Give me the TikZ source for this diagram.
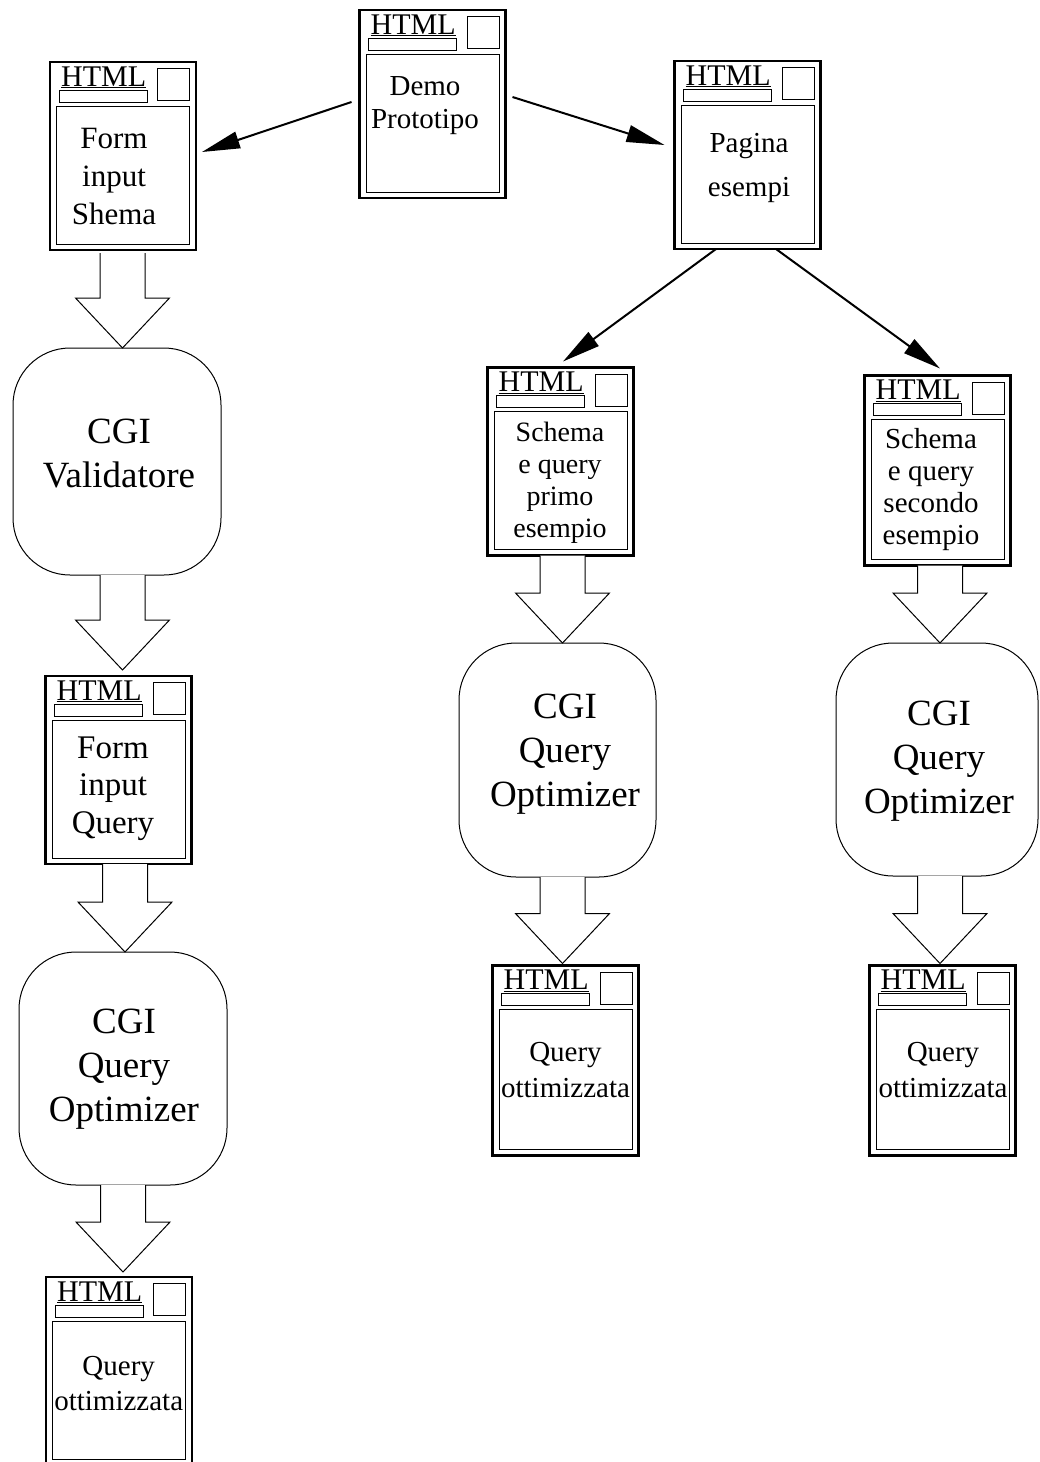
\documentclass[tikz,border=0pt]{standalone}
\usepackage{fontspec}
\setmainfont{Liberation Serif}
\usetikzlibrary{calc,arrows.meta}
\tikzset{
  htmlbox/.style={draw, line width=2.5pt, minimum width=146pt, minimum height=188pt, inner sep=0pt, outer sep=0pt},
  innerbox/.style={draw, line width=1pt},
  cgi/.style={draw, line width=1pt, rounded corners=57pt, inner sep=0pt, outer sep=0pt},
  btxt/.style 2 args={anchor=north, align=center, inner sep=0pt, font=\fontsize{#1}{#2}\selectfont},
  blockarr/.style={draw, line width=1pt, fill=white, line join=miter},
  thinarr/.style={line width=2pt, -{Triangle[length=38pt,width=17pt]}},
}
\newcommand\htmldeco[1]{%
  \draw[innerbox] ($(#1.north west)+(6.5,44)$) rectangle ($(#1.south east)+(-6.5,-6)$);
  \draw[innerbox] ($(#1.north west)+(9,28)$) rectangle ++(88,12);
  \draw[innerbox] ($(#1.north east)+(-38.5,6.5)$) rectangle ++(32,32);
  \node[anchor=base west, inner sep=0pt, font=\fontsize{30}{30}\selectfont] (#1-lbl) at ($(#1.north west)+(11,24)$) {\underline{HTML}};
}
\newcommand\blockarrow[5]{%
  \draw[blockarr] let \p1=($(#1.south)+(#3,#4)$), \p2=($(#2.north)+(0,#5)$) in
    (\x1-22.5pt,\y1) -- (\x1-22.5pt,\y2+50pt) -- (\x1-47pt,\y2+50pt) -- (\x1,\y2)
    -- (\x1+47pt,\y2+50pt) -- (\x1+22.5pt,\y2+50pt) -- (\x1+22.5pt,\y1);
}
\begin{document}
\begin{tikzpicture}[x=1pt,y=-1pt]
\useasboundingbox (0,0) rectangle (1039,1462);
\fill[white] (0,0) rectangle (1039,1462);

% HTML pages
\node[htmlbox] (demo) at (432.5,104) {};
\node[htmlbox] (formS) at (123,156) {};
\node[htmlbox] (pagina) at (747.5,155) {};
\node[htmlbox] (schema1) at (560.5,461.5) {};
\node[htmlbox, minimum height=190pt] (schema2) at (937.5,470.5) {};
\node[htmlbox] (formQ) at (118.5,770) {};
\node[htmlbox, minimum height=190pt] (outM) at (565.5,1060.5) {};
\node[htmlbox, minimum height=190pt] (outR) at (942.5,1060.5) {};
\node[htmlbox] (out1) at (119,1371) {};
\htmldeco{demo}
\htmldeco{formS}
\htmldeco{pagina}
\htmldeco{schema1}
\htmldeco{schema2}
\htmldeco{formQ}
\htmldeco{outM}
\htmldeco{outR}
\htmldeco{out1}

\node[btxt={29}{33}] (demo-t) at (425,71.9) {\strut Demo\\\strut Prototipo};
\node[btxt={31}{38}] (formS-t) at (114,121.4) {\strut Form\\\strut input\\\strut Shema};
\node[btxt={29}{44}] (pagina-t) at (749,121) {\strut Pagina\\\strut esempi};
\node[btxt={28}{32}] (schema1-t) at (560,419.3) {\strut Schema\\\strut e query\\\strut primo\\\strut esempio};
\node[btxt={29}{32}] (schema2-t) at (931,425.6) {\strut Schema\\\strut e query\\\strut secondo\\\strut esempio};
\node[btxt={33}{37.5}] (formQ-t) at (113,731.7) {\strut Form\\\strut input\\\strut Query};
\node[btxt={29}{36}] (outM-t) at (565.5,1036.5) {\strut Query\\\strut ottimizzata};
\node[btxt={29}{36}] (outR-t) at (943,1036.5) {\strut Query\\\strut ottimizzata};
\node[btxt={29}{35}] (out1-t) at (118.7,1350.5) {\strut Query\\\strut ottimizzata};

% CGI programs
\node[cgi, minimum width=208pt, minimum height=227pt] (valid) at (117,461.5) {};
\node[cgi, minimum width=208pt, minimum height=233pt] (cgiQ1) at (123,1068.5) {};
\node[cgi, minimum width=197pt, minimum height=234pt] (cgiM) at (557.5,760) {};
\node[cgi, minimum width=202pt, minimum height=233pt] (cgiR) at (937,759.5) {};
\node[btxt={37}{44}] (valid-t) at (119,412.2) {\strut CGI\\\strut Validatore};
\node[btxt={37}{44}] (cgiQ1-t) at (124,1002.2) {\strut CGI\\\strut Query\\\strut Optimizer};
\node[btxt={37}{44}] (cgiM-t) at (565,687.2) {\strut CGI\\\strut Query\\\strut Optimizer};
\node[btxt={37}{44}] (cgiR-t) at (939,694.2) {\strut CGI\\\strut Query\\\strut Optimizer};

% block arrows
\blockarrow{formS}{valid}{-0.5}{3}{0}
\blockarrow{valid}{formQ}{5.5}{0}{-6}
\blockarrow{formQ}{cgiQ1}{6.5}{0}{0}
\blockarrow{cgiQ1}{out1}{0}{0}{-5}
\blockarrow{schema1}{cgiM}{2}{0}{0}
\blockarrow{cgiM}{outM}{5}{0}{-2}
\blockarrow{schema2}{cgiR}{2.5}{0}{0}
\blockarrow{cgiR}{outR}{3}{0}{-2}

% links
\draw[thinarr] ($(demo.west)+(-8,-2)$) -- ($(formS.east)+(6,-4)$);
\draw[thinarr] ($(demo.east)+(7,-7)$) -- ($(pagina.west)+(-10,-10)$);
\draw[thinarr] ($(pagina.south)+(-31.5,0)$) -- ($(schema1.north)+(2.5,-6)$);
\draw[thinarr] ($(pagina.south)+(28.5,0)$) -- ($(schema2.north)+(2.5,-7)$);
\end{tikzpicture}
\end{document}
